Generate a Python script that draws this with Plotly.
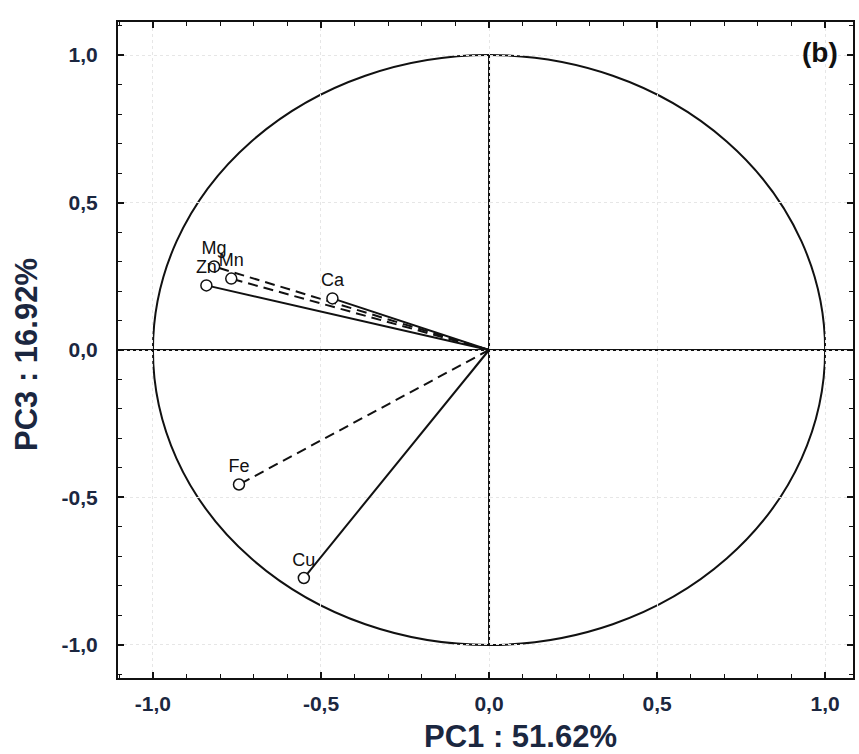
import plotly.graph_objects as go

# Loadings
variables = ["Mg", "Mn", "Zn", "Ca", "Fe", "Cu"]
pc1 = [-0.818, -0.767, -0.841, -0.466, -0.744, -0.551]
pc3 = [0.283, 0.242, 0.219, 0.175, -0.456, -0.773]
line_styles = ["dash", "dash", "solid", "solid", "dash", "solid"]

x_title = "PC1 : 51.62%"
y_title = "PC3 : 16.92%"
panel_label = "(b)"
circle_radius = 1.0
x_range = [-1.104, 1.083]
y_range = [-1.112, 1.112]
tick_vals = [-1.0, -0.5, 0.0, 0.5, 1.0]
tick_text = ["-1,0", "-0,5", "0,0", "0,5", "1,0"]

FONT = "Liberation Sans, Arial, sans-serif"
INK = "#111111"
NAVY = "#1b2740"

fig = go.Figure()

# vectors from origin
for name, x, y, ls in zip(variables, pc1, pc3, line_styles):
    fig.add_trace(go.Scatter(
        x=[0, x], y=[0, y], mode="lines",
        line=dict(color=INK, width=2, dash=("10px,6px" if ls == "dash" else "solid")),
        hoverinfo="skip", showlegend=False,
    ))

# points + labels
fig.add_trace(go.Scatter(
    x=pc1, y=pc3, mode="markers+text", text=variables,
    textposition="top center",
    textfont=dict(family=FONT, size=18, color=INK),
    marker=dict(symbol="circle", size=11, color="white",
                line=dict(color=INK, width=1.5)),
    showlegend=False, cliponaxis=False,
))

shapes = [
    dict(type="circle", xref="x", yref="y",
         x0=-circle_radius, x1=circle_radius, y0=-circle_radius, y1=circle_radius,
         line=dict(color=INK, width=2), layer="below"),
    dict(type="line", xref="paper", yref="y", x0=0, x1=1, y0=0, y1=0,
         line=dict(color=INK, width=2), layer="below"),
    dict(type="line", xref="x", yref="y", x0=0, x1=0,
         y0=-circle_radius, y1=circle_radius,
         line=dict(color=INK, width=2), layer="below"),
]

axis_common = dict(
    showline=True, linecolor=INK, linewidth=2, mirror="allticks",
    ticks="inside", ticklen=6, tickwidth=1.5, tickcolor=INK,
    tickvals=tick_vals, ticktext=tick_text,
    tickfont=dict(family=FONT, size=21, color=NAVY, weight="bold"),
    showgrid=True, gridcolor="#e6e6e6", gridwidth=1, griddash="dot",
    zeroline=False,
    minor=dict(ticks="inside", ticklen=4, tickwidth=1.2, tickcolor=INK,
               dtick=0.1, showgrid=False),
)

fig.update_xaxes(range=x_range, ticklabelstandoff=6, **axis_common)
fig.update_yaxes(range=y_range, ticklabelstandoff=14, **axis_common)

annotations = [
    dict(text=x_title, xref="paper", yref="paper", x=0.5, y=0,
         xanchor="center", yanchor="middle", yshift=-58, xshift=35,
         showarrow=False, font=dict(family=FONT, size=31, color=NAVY, weight="bold")),
    dict(text=y_title, xref="paper", yref="paper", x=0, y=0.5,
         xanchor="center", yanchor="middle", xshift=-92, yshift=-5,
         textangle=-90, showarrow=False,
         font=dict(family=FONT, size=31, color=NAVY, weight="bold")),
    dict(text=panel_label, xref="paper", yref="paper", x=1, y=1,
         xanchor="center", yanchor="middle", xshift=-33, yshift=-30,
         showarrow=False, font=dict(family=FONT, size=28, color=INK, weight="bold")),
]

fig.update_layout(
    width=859, height=754,
    margin=dict(l=118, r=4, t=22, b=76),
    paper_bgcolor="white", plot_bgcolor="white",
    shapes=shapes, annotations=annotations,
    showlegend=False,
)

fig.write_html("out.html")
